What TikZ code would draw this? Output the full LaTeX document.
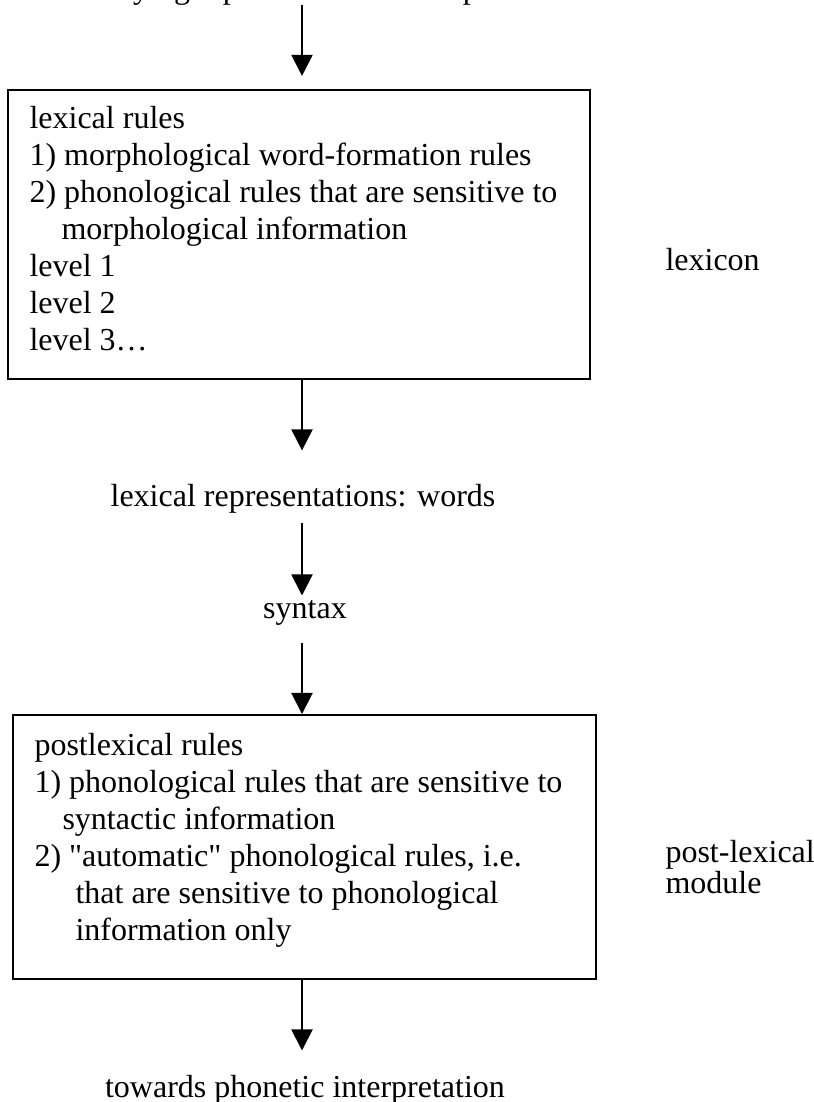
\documentclass[tikz,border=0pt]{standalone}
\usepackage{fontspec}
\setmainfont{Liberation Serif}[Ligatures=TeXOff]
\usetikzlibrary{arrows.meta,fit}

\tikzset{
  rulebox/.style={draw, line width=0.75pt, inner sep=0pt},
  stage/.style={inner sep=0pt, anchor=base, text height=8.25pt, text depth=2.6pt},
  ruleline/.style={inner sep=0pt, anchor=base west},
  flow/.style={-{Triangle[width=7.9pt,length=7.9pt]}, line width=0.75pt},
}

\begin{document}
\begin{tikzpicture}[x=0.375pt, y=-0.375pt, font=\fontsize{12}{13.875}\selectfont]
    \useasboundingbox (0,0) rectangle (814,1102);
    \coordinate (col) at (302,0);
    % representations between the stages
    \node[stage] (under) at (306,-2) {underlying representations: morphemes};
    \node[stage] (words) at (303,506) {lexical representations: words};
    \node[stage] (syntax) at (305,618) {syntax};
    \node[stage] (towards) at (305,1097) {towards phonetic interpretation};
    % lexical rules
    \node[rulebox, fit={(8,90) (590,379)}] (lexbox) {};
    \foreach \dx/\txt [count=\i from 0] in {0/lexical rules, 0/1) morphological word-formation rules,
        0/2) phonological rules that are sensitive to, 32/morphological information,
        0/level 1, 0/level 2, 0/level 3…}
    \node[ruleline] (lexline\i) at (29+\dx,128+37*\i) {\txt};
    % postlexical rules
    \node[rulebox, fit={(13,715) (596,979)}] (postbox) {};
    \foreach \dx/\txt [count=\i from 0] in {0/postlexical rules, 0/1) phonological rules that are sensitive to,
        28/syntactic information, 0/{2) "automatic" phonological rules, i.e.},
        41/that are sensitive to phonological, 41/information only}
    \node[ruleline] (postline\i) at (34+\dx,755+37*\i) {\txt};
    % modules
    \node[ruleline] (lexicon) at (665,270) {lexicon};
    \node[ruleline] (postlex) at (665,862) {post-lexical};
    \node[ruleline] (module) at (665,893) {module};
    % arrows
    \draw[flow, shorten >=4.9pt] (under.south -| col) -- (lexbox.north -| col);
    \draw[flow, shorten >=12.4pt] (lexbox.south -| col) -- (words.north -| col);
    \draw[flow, shorten <=3.75pt] (words.south -| col) -- (syntax.north -| col);
    \draw[flow, shorten <=6.75pt] (syntax.south -| col) -- (postbox.north -| col);
    \draw[flow, shorten >=9pt] (postbox.south -| col) -- (towards.north -| col);
\end{tikzpicture}
\end{document}
